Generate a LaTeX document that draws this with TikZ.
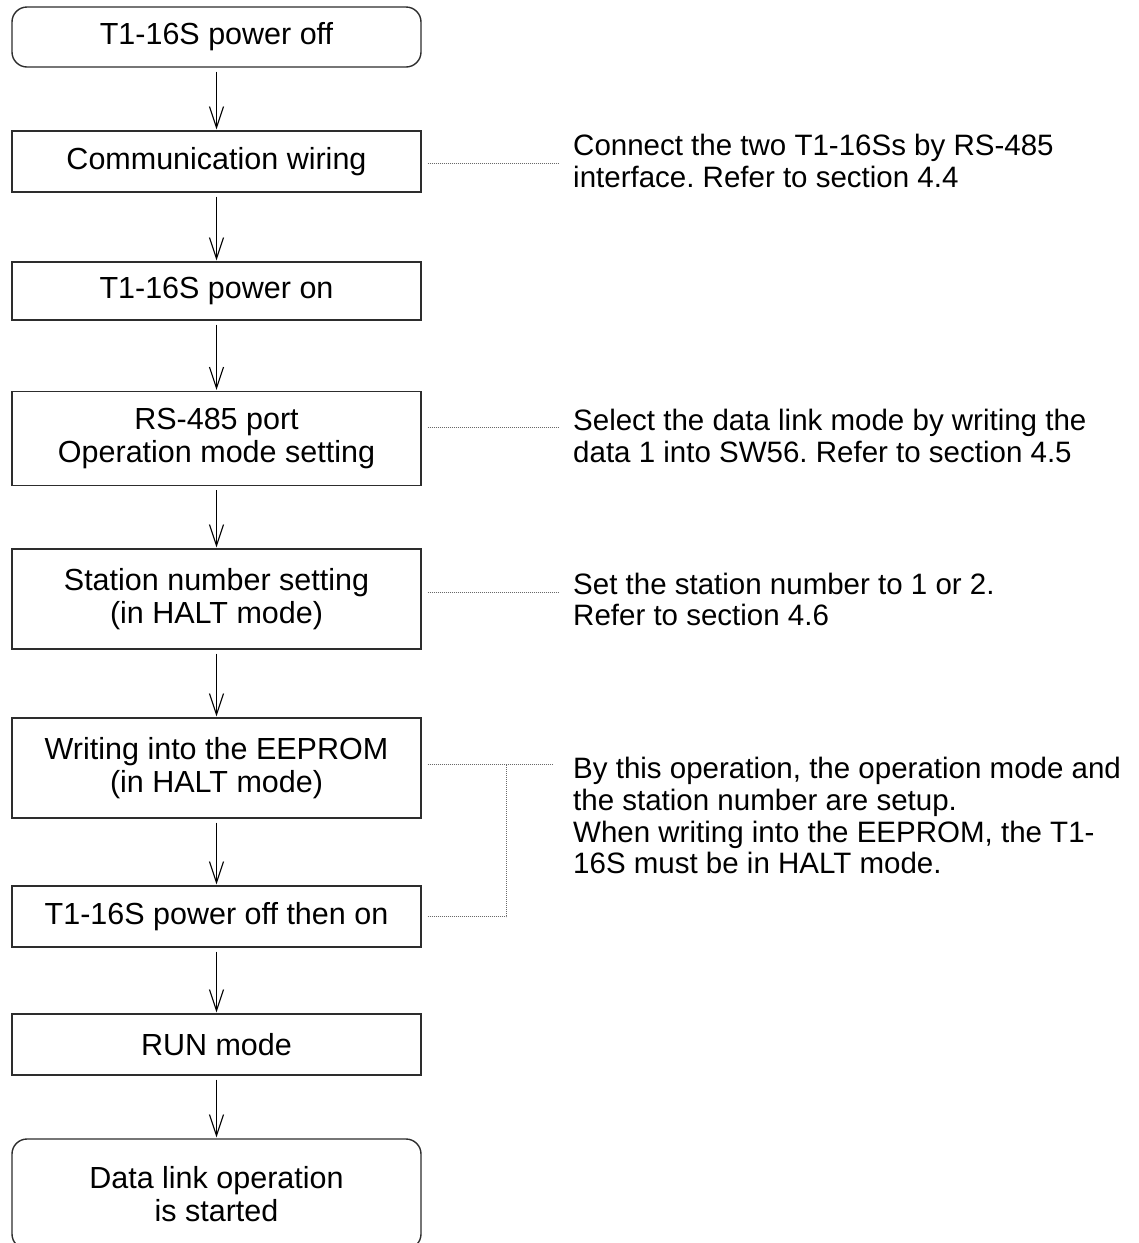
\documentclass[tikz,border=0pt]{standalone}
\usepackage{fontspec}
\setmainfont{Liberation Sans}
\usetikzlibrary{arrows.meta,positioning,calc}
\definecolor{boxgray}{RGB}{45,45,45}
\definecolor{dotgray}{RGB}{105,105,105}
\frenchspacing

\begin{document}
\begin{tikzpicture}[x=1pt,y=-1pt,
  stepbox/.style={draw=boxgray,line width=1.4pt,minimum width=409pt,inner sep=0pt,
    align=center,font=\fontsize{30.5}{33.5}\selectfont},
  endbox/.style={stepbox,rounded corners=15pt},
  note/.style={anchor=west,inner sep=0pt,align=left,
    font=\fontsize{29.5}{31.8}\selectfont},
  flow/.style={-{Straight Barb[length=21pt,width=14pt]},line width=1.1pt,
    shorten <=4pt,shorten >=1pt},
  lead/.style={dotgray,line width=1pt,dash pattern=on 1pt off 1pt}]
  \useasboundingbox (0,0) rectangle (1139,1243);
  \def\cx{216.5}
  \def\nx{573}

  \node[endbox,minimum height=60pt]  (poff)   at (\cx,37)     {T1-16S power off};
  \node[stepbox,minimum height=61pt] (wire)   at (\cx,161.5)  {Communication wiring};
  \node[stepbox,minimum height=58pt] (pon)    at (\cx,291)    {T1-16S power on};
  \node[stepbox,minimum height=94pt] (port)   at (\cx,438.5)  {RS-485 port\\Operation mode setting};
  \node[stepbox,minimum height=100pt] (stn)   at (\cx,599)    {Station number setting\\(in HALT mode)};
  \node[stepbox,minimum height=100pt] (eeprom) at (\cx,768)   {Writing into the EEPROM\\(in HALT mode)};
  \node[stepbox,minimum height=61pt] (cycle)  at (\cx,916.5)  {T1-16S power off then on};
  \node[stepbox,minimum height=61pt] (run)    at (\cx,1044.5) {RUN mode};
  \node[endbox,minimum height=110pt] (start)  at (\cx,1194)   {Data link operation\\is started};

  \foreach \a/\b in {poff/wire,wire/pon,pon/port,port/stn,stn/eeprom,eeprom/cycle,cycle/run,run/start}
    \draw[flow] (\a) -- (\b);

  \node[note] (wirenote) at (\nx,161)
    {Connect the two T1-16Ss by RS-485\\interface. Refer to section 4.4};
  \node[note] (portnote) at (\nx,436)
    {Select the data link mode by writing the\\data 1 into SW56. Refer to section 4.5};
  \node[note] (stnnote) at (\nx,599.5)
    {Set the station number to 1 or 2.\\Refer to section 4.6};
  \node[note,anchor=north west] (eepnote) at (\nx,757)
    {By this operation, the operation mode and\\the station number are setup.\\When writing into the EEPROM, the T1-\\16S must be in HALT mode.};

  \draw[lead,shorten >=20pt] ([shift={(6,1.5)}]wire.east) -- ([shift={(6,1.5)}]wire.east -| wirenote.west);
  \draw[lead,shorten >=20pt] ([shift={(6,-11)}]port.east) -- ([shift={(6,-11)}]port.east -| portnote.west);
  \draw[lead,shorten >=20pt] ([shift={(6,-7)}]stn.east) -- ([shift={(6,-7)}]stn.east -| stnnote.west);
  \draw[lead,shorten >=20pt] ([shift={(6,-4)}]eeprom.east) coordinate (eeplead)
    -- (eeplead -| eepnote.west);
  \coordinate (tee) at ($(eeplead)+(79,0)$);
  \draw[lead] ([xshift=6pt]cycle.east) -| (tee);
\end{tikzpicture}
\end{document}
